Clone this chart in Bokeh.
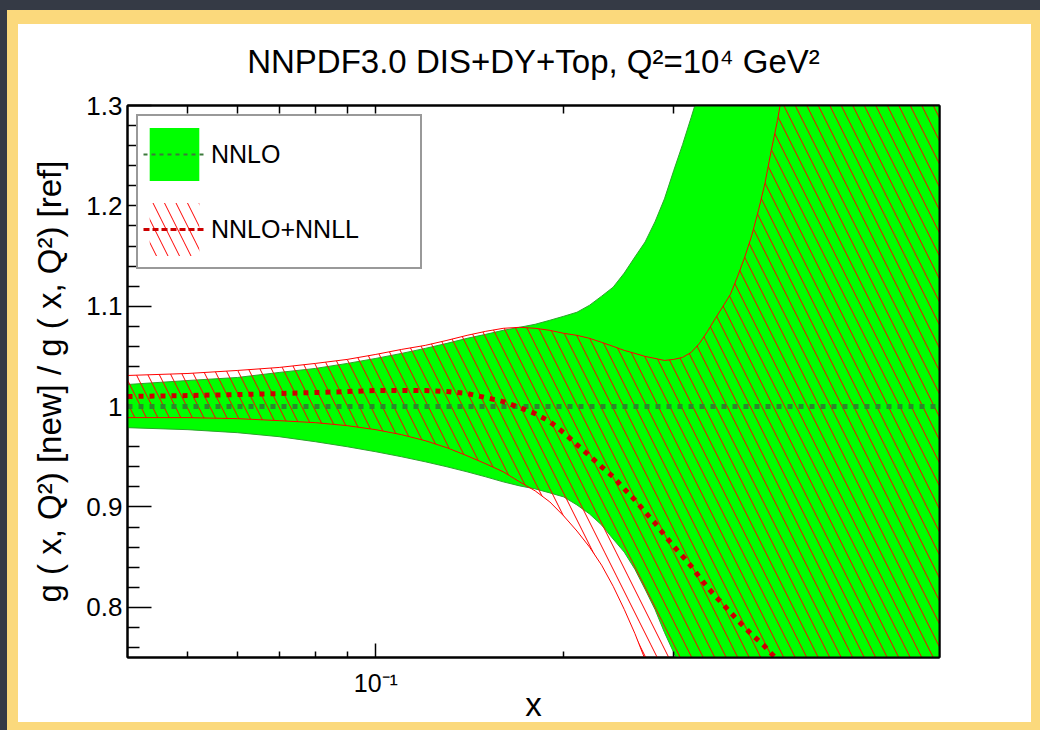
import numpy as np
from bokeh.plotting import figure
from bokeh.models import (Range1d, FixedTicker, LogAxis, LinearAxis, Legend,
                          LegendItem)
from bokeh.core.properties import value
from bokeh.embed import file_html
from bokeh.resources import INLINE

# ---------------- data ----------------
x_vals = [0.04, 0.05, 0.06, 0.07, 0.08, 0.09,
          0.10, 0.11, 0.12, 0.13, 0.14, 0.15, 0.16, 0.17, 0.18, 0.19,
          0.20, 0.21, 0.22, 0.23, 0.24, 0.25, 0.26, 0.27, 0.28, 0.29,
          0.30, 0.31, 0.32, 0.33, 0.34, 0.35, 0.36, 0.37, 0.38, 0.39,
          0.40, 0.41, 0.42, 0.43, 0.44, 0.45,
          0.50, 0.60, 0.70, 0.80]

# NNLO band (green)
nnlo_upper = [1.022, 1.026, 1.029, 1.034, 1.038, 1.043,
              1.048, 1.053, 1.058, 1.063, 1.068, 1.072, 1.076, 1.079, 1.082, 1.086,
              1.090, 1.094, 1.101, 1.110, 1.119, 1.133, 1.149, 1.164, 1.184, 1.207,
              1.235, 1.261, 1.288, 1.315, 1.35, 1.45, 1.45, 1.45, 1.45, 1.45,
              1.45, 1.45, 1.45, 1.45, 1.45, 1.45,
              1.45, 1.45, 1.45, 1.45]
nnlo_lower = [0.979, 0.977, 0.974, 0.970, 0.965, 0.960,
              0.955, 0.950, 0.945, 0.940, 0.935, 0.930, 0.925, 0.921, 0.918, 0.914,
              0.910, 0.902, 0.893, 0.882, 0.868, 0.855, 0.838, 0.818, 0.798, 0.775,
              0.755, 0.733, 0.71, 0.65, 0.65, 0.65, 0.65, 0.65, 0.65, 0.65,
              0.65, 0.65, 0.65, 0.65, 0.65, 0.65,
              0.65, 0.65, 0.65, 0.65]
nnlo_central = [1.0, 1.0, 1.0, 1.0, 1.0, 1.0,
                1.0, 1.0, 1.0, 1.0, 1.0, 1.0, 1.0, 1.0, 1.0, 1.0,
                1.0, 1.0, 1.0, 1.0, 1.0, 1.0, 1.0, 1.0, 1.0, 1.0,
                1.0, 1.0, 1.0, 1.0, 1.0, 1.0, 1.0, 1.0, 1.0, 1.0,
                1.0, 1.0, 1.0, 1.0, 1.0, 1.0,
                1.0, 1.0, 1.0, 1.0]

# NNLO+NNLL band (red hatched)
nnll_upper = [1.031, 1.033, 1.036, 1.039, 1.043, 1.047,
              1.052, 1.057, 1.061, 1.066, 1.071, 1.075, 1.078, 1.079, 1.078, 1.076,
              1.073, 1.071, 1.068, 1.064, 1.060, 1.056, 1.053, 1.050, 1.048, 1.046,
              1.047, 1.049, 1.054, 1.063, 1.075, 1.088, 1.100, 1.112, 1.130, 1.149,
              1.170, 1.195, 1.222, 1.255, 1.285, 1.32,
              1.45, 1.45, 1.45, 1.45]
nnll_lower = [0.989, 0.989, 0.988, 0.986, 0.984, 0.981,
              0.977, 0.972, 0.966, 0.959, 0.951, 0.943, 0.935, 0.925, 0.916, 0.905,
              0.891, 0.876, 0.860, 0.842, 0.821, 0.798, 0.774, 0.748, 0.72, 0.65,
              0.65, 0.65, 0.65, 0.65, 0.65, 0.65, 0.65, 0.65, 0.65, 0.65,
              0.65, 0.65, 0.65, 0.65, 0.65, 0.65,
              0.65, 0.65, 0.65, 0.65]
nnll_central = [1.010, 1.011, 1.012, 1.013, 1.014, 1.015,
                1.016, 1.016, 1.016, 1.015, 1.013, 1.009, 1.005, 0.999, 0.993, 0.985,
                0.974, 0.962, 0.951, 0.940, 0.930, 0.918, 0.907, 0.895, 0.884, 0.872,
                0.861, 0.851, 0.841, 0.830, 0.820, 0.811, 0.803, 0.795, 0.787, 0.780,
                0.773, 0.767, 0.761, 0.754, 0.748, 0.742,
                0.70, 0.70, 0.70, 0.70]

x_lim = (0.04, 0.8)
y_lim = (0.75, 1.3)

x_major_ticks = [0.1]
x_tick_labels = ["10\u207b\u00b9"]
x_minor_ticks = [0.05, 0.06, 0.07, 0.08, 0.09, 0.2, 0.3]

y_major_ticks = [0.8, 0.9, 1.0, 1.1, 1.2, 1.3]
y_tick_labels = ["0.8", "0.9", "1", "1.1", "1.2", "1.3"]
y_minor_ticks = [0.76, 0.78, 0.82, 0.84, 0.86, 0.88, 0.92, 0.94, 0.96,
                 1.04, 1.06, 1.08, 1.12, 1.14, 1.16, 1.18, 1.22, 1.24,
                 1.26, 1.28]
y_tick_marks = [0.8, 0.9, 1.1, 1.2, 1.3]   # 1 is hidden under the bands

title_text = "NNPDF3.0 DIS+DY+Top, Q\u00b2=10\u2074 GeV\u00b2"
x_label = "x"
y_label = "g ( x, Q\u00b2) [new] / g ( x, Q\u00b2) [ref]"
legend_labels = ["NNLO", "NNLO+NNLL"]

# ---------------- styling ----------------
FONT = "Liberation Sans"
GREEN = "#00ff00"
GREEN_EDGE = "#2aa52a"
GREEN_DASH = "#2a8a2a"
RED = "#ff0000"
RED_DOT = "#cc0000"
DARK = "#353a45"
YELLOW = "#fbd97c"

p = figure(width=1040, height=730, x_axis_type="log",
           x_axis_location=None, y_axis_location=None,
           x_range=Range1d(*x_lim), y_range=Range1d(*y_lim),
           output_backend="svg", toolbar_location=None,
           min_border_left=127, min_border_right=101,
           min_border_top=105, min_border_bottom=73)
p.grid.visible = False
p.background_fill_color = "white"
p.border_fill_alpha = 0.0
p.outline_line_color = "black"
p.outline_line_width = 2
p.styles = {
    "background-color": "white",
    "box-shadow": (f"inset 7px 10px 0 0 {DARK}, "
                   f"inset 18px 24px 0 0 {YELLOW}, "
                   f"inset -9px -8px 0 0 {YELLOW}"),
}

x = np.array(x_vals)

# green NNLO band
r_nnlo_band = p.varea(x=x, y1=np.array(nnlo_lower), y2=np.array(nnlo_upper),
                      fill_color=GREEN, fill_alpha=1.0)
p.line(x, np.array(nnlo_upper), line_color=GREEN_EDGE, line_width=1)
p.line(x, np.array(nnlo_lower), line_color=GREEN_EDGE, line_width=1)

# red hatched NNLO+NNLL band
r_nnll_band = p.varea(x=x, y1=np.array(nnll_lower), y2=np.array(nnll_upper),
                      fill_color=None, hatch_pattern="left_diagonal_line",
                      hatch_color=RED, hatch_scale=23, hatch_weight=1)
p.line(x, np.array(nnll_upper), line_color=RED, line_width=1)
p.line(x, np.array(nnll_lower), line_color=RED, line_width=1)

# central values
p.line(x, np.array(nnlo_central), line_color=GREEN_DASH, line_width=5,
       line_dash="5 6")
p.line(x, np.array(nnll_central), line_color=RED_DOT, line_width=5,
       line_dash="5 6")

# legend-only line styles (drawn outside the visible y range)
r_leg_nnlo = p.line(x=[0.05, 0.06], y=[2.0, 2.0], line_color="#3c7a3c",
                    line_width=2, line_dash="4 4")
r_leg_nnll = p.line(x=[0.05, 0.06], y=[2.0, 2.0], line_color=RED_DOT,
                    line_width=3, line_dash="6 3")

# ---------------- axes ----------------
xt = FixedTicker(ticks=x_major_ticks, minor_ticks=x_minor_ticks)
yt = FixedTicker(ticks=y_major_ticks, minor_ticks=y_minor_ticks)
yt_marks = FixedTicker(ticks=y_tick_marks, minor_ticks=y_minor_ticks)


def tick_only(cls, ticker, major_in, minor_in, line=False):
    return cls(ticker=ticker, major_tick_in=major_in, major_tick_out=0,
               minor_tick_in=minor_in, minor_tick_out=0,
               major_tick_line_color="black", minor_tick_line_color="black",
               major_tick_line_width=1.5, minor_tick_line_width=1.5,
               axis_line_color="black" if line else None, axis_line_width=2,
               major_label_text_font_size="1px", major_label_text_color=None,
               major_label_standoff=0)


# left
p.add_layout(tick_only(LinearAxis, yt_marks, 24, 12), "left")
left_ax = LinearAxis(ticker=yt, major_tick_in=0, major_tick_out=0,
                     minor_tick_in=0, minor_tick_out=0,
                     axis_line_color="black", axis_line_width=2,
                     major_label_overrides=dict(zip(y_major_ticks, y_tick_labels)),
                     major_label_text_font=FONT,
                     major_label_text_font_size="26px",
                     major_label_text_color="black",
                     major_label_standoff=5,
                     axis_label=y_label, axis_label_text_font=FONT,
                     axis_label_text_font_size="33px",
                     axis_label_text_font_style="normal",
                     axis_label_text_color="black",
                     axis_label_standoff=15)
p.add_layout(left_ax, "left")

# bottom
p.add_layout(tick_only(LogAxis, xt, 14, 6), "below")
bottom_ax = LogAxis(ticker=xt, major_tick_in=0, major_tick_out=0,
                    minor_tick_in=0, minor_tick_out=0,
                    axis_line_color="black", axis_line_width=2,
                    major_label_overrides=dict(zip(x_major_ticks, x_tick_labels)),
                    major_label_text_font=FONT,
                    major_label_text_font_size="25px",
                    major_label_text_color="black",
                    major_label_standoff=11,
                    axis_label=x_label, axis_label_text_font=FONT,
                    axis_label_text_font_size="33px",
                    axis_label_text_font_style="normal",
                    axis_label_text_color="black",
                    axis_label_standoff=-14)
p.add_layout(bottom_ax, "below")

# top and right
p.add_layout(tick_only(LogAxis, xt, 8, 8), "above")
p.add_layout(tick_only(LogAxis, xt, 0, 0, line=True), "above")
p.add_layout(tick_only(LinearAxis, yt, 0, 0, line=True), "right")

# ---------------- title ----------------
p.title.text = title_text
p.title.align = "center"
p.title.text_font = FONT
p.title.text_font_size = "33px"
p.title.text_font_style = "normal"
p.title.text_color = "black"
p.title.standoff = 51

# ---------------- legend ----------------
legend = Legend(items=[
    LegendItem(label=value(legend_labels[0]), renderers=[r_nnlo_band, r_leg_nnlo]),
    LegendItem(label=value(legend_labels[1]), renderers=[r_nnll_band, r_leg_nnll]),
], location="top_left", margin=9, padding=5, spacing=9,
   glyph_width=62, glyph_height=66, label_width=204,
   label_standoff=6, label_text_font=FONT, label_text_font_size="25px",
   label_text_color="black", background_fill_color="white",
   background_fill_alpha=1.0, border_line_color="#333333",
   border_line_width=2)
p.add_layout(legend, "center")

open("out.html", "w").write(file_html(p, INLINE))
